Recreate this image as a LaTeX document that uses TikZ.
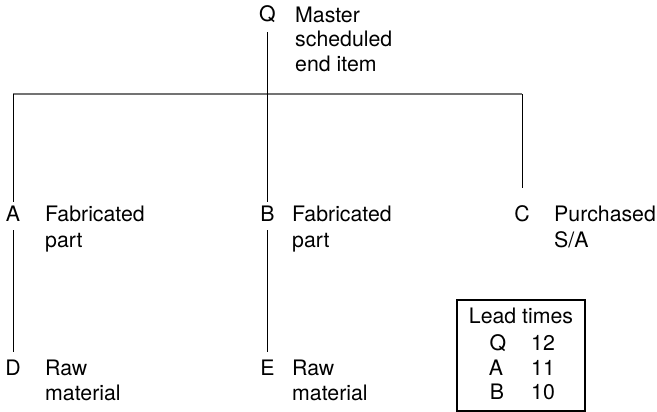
\documentclass[tikz,border=0pt]{standalone}
\usepackage{fontspec}
\setmainfont{TeX Gyre Heros}
\begin{document}
\begin{tikzpicture}[x=1pt,y=-1pt,
  every node/.style={font=\fontsize{21.3}{25}\selectfont},
  letter/.style={anchor=base, inner xsep=0pt, inner ysep=3pt, text height=15pt, text depth=5pt},
  label/.style={anchor=base west, inner sep=0pt, align=left},
  conn/.style={line width=1pt, black},
  bar/.style={line width=1.4pt, black!55},
  ltbox/.style={draw, line width=1.2pt, minimum width=128pt, minimum height=111pt, inner sep=0pt}]
\useasboundingbox (0,0) rectangle (657,412);
% items (label nodes are placed by the baseline of their last line)
\node[letter] (Q) at (267.5,22) {Q};
\node[label] (Qt) at (295,72) {Master\\scheduled\\end item};
\node[letter] (A) at (13,222) {A};
\node[label] (At) at (45,247) {Fabricated\\part};
\node[letter] (B) at (267.5,222) {B};
\node[label] (Bt) at (292,247) {Fabricated\\part};
\node[letter] (C) at (522,222) {C};
\node[label] (Ct) at (554,247) {Purchased\\S/A};
\node[letter] (D) at (13,375) {D};
\node[label] (Dt) at (45,400) {Raw\\material};
\node[letter] (E) at (267.5,375) {E};
\node[label] (Et) at (292,400) {Raw\\material};
% junctions
\coordinate (jl) at (13,94);
\coordinate (jr) at (522,94);
% connectors
\draw[bar] (jl) -- (jr);
\draw[conn, shorten >=2pt] (Q.south) ++(0,2) -- (B.north);
\draw[conn, shorten >=2pt] (jl) -- (A.north);
\draw[conn, shorten >=16pt] (jr) -- (C.north);
\draw[conn, shorten >=5pt] (A.south) -- (D.north);
\draw[conn, shorten >=5pt] (B.south) -- (E.north);
% lead times box
\node[ltbox] (lt) at (521,355.5) {};
\node[anchor=base, inner sep=0pt] (lth) at (521,323) {Lead times};
\node[anchor=base, inner sep=0pt] (l1) at (498,350) {Q};
\node[anchor=base, inner sep=0pt] (n1) at (543,350) {12};
\node[anchor=base, inner sep=0pt] (l2) at (496,375) {A};
\node[anchor=base, inner sep=0pt] (n2) at (543,375) {11};
\node[anchor=base, inner sep=0pt] (l3) at (497,399) {B};
\node[anchor=base, inner sep=0pt] (n3) at (543,399) {10};
\end{tikzpicture}
\end{document}
